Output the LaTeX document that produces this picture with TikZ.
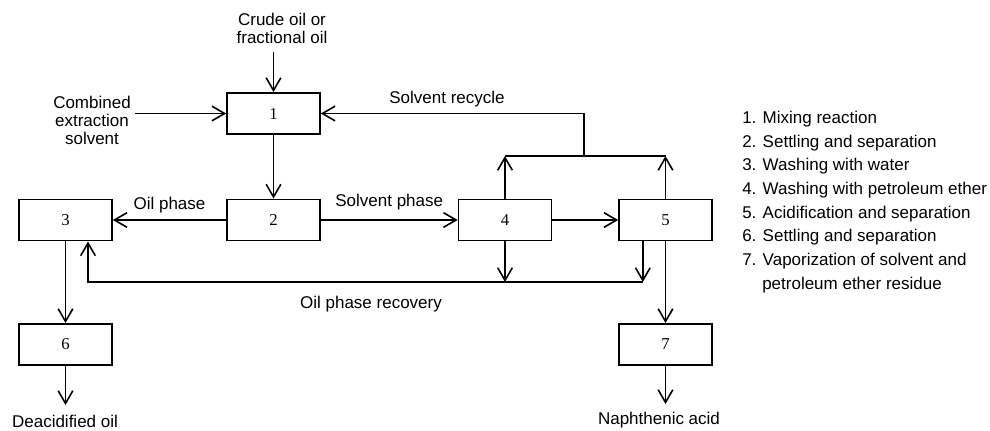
\documentclass[tikz,border=0pt]{standalone}
\usepackage{fontspec}
\setmainfont{Liberation Sans}
\newfontfamily\numfont{Liberation Serif}
\usetikzlibrary{arrows.meta,positioning}

\tikzset{
    box/.style={
        draw,
        line width=1.2pt,
        minimum width=69.75pt,
        minimum height=31pt,
        inner sep=0pt,
        font={\numfont\fontsize{12.5}{14}\selectfont}
    },
    flow/.style={
        -{Straight Barb[length=9.5pt,width=11pt]},
        line width=1.2pt
    },
    pipe/.style={
        line width=1.2pt
    },
    txt/.style={
        align=center,
        inner sep=0pt,
        font=\fontsize{12.75}{13.5}\selectfont
    },
    legend/.style={
        anchor=west,
        inner sep=0pt,
        font=\fontsize{12.75}{13.5}\selectfont
    }
}

\begin{document}
\begin{tikzpicture}[x=0.75pt,y=-0.75pt]
                \useasboundingbox (0,0) rectangle (990,430);

                % process units
                \node[box] (b1) at (273.5,113.5) {1};
                \node[box] (b2) at (273.5,220) {2};
                \node[box] (b3) at (65.5,220) {3};
                \node[box] (b4) at (505,220) {4};
                \node[box] (b5) at (665.5,220) {5};
                \node[box] (b6) at (65.5,344.5) {6};
                \node[box] (b7) at (665.5,344.5) {7};

                % feeds
                \node[txt] (crude) at (282,28) {Crude oil or\\fractional oil};
                \node[txt] (solv) at (92,120) {Combined\\extraction\\solvent};
                \coordinate (crudein) at (273.5,52);
                \coordinate (solvin) at (135,113.5);

                \draw[flow] (crudein) -- (b1.north);
                \draw[flow] (solvin) -- (b1.west);
                \draw[flow] (b1.south) -- (b2.north);

                \draw[flow] (b2.west) -- (b3.east) node[txt, midway, above=5pt] (oil) {Oil phase};
                \draw[flow] (b2.east) -- (b4.west) node[txt, midway, above=7pt] (sph) {Solvent phase};
                \draw[flow] (b4.east) -- (b5.west);

                % solvent recycle
                \coordinate (up) at (584,156);
                \draw[flow] (b4.north) -- (b4.north |- up);
                \draw[flow] (b5.north) -- (b5.north |- up);
                \draw[pipe] (b4.north |- up) -- (b5.north |- up);
                \draw[flow] (up) |- (b1.east);
                \node[txt] (rcy) at (447,99) {Solvent recycle};

                % oil phase recovery
                \coordinate (rec) at (88,282);
                \coordinate (b5out) at ([xshift=-17pt]b5.south);
                \draw[flow] (b4.south) -- (b4.south |- rec);
                \draw[flow] (b5out) -- (b5out |- rec);
                \draw[flow] (b5out |- rec) -- (rec) -- (rec |- b3.south);
                \node[txt] (recl) at (371,304) {Oil phase recovery};

                % products
                \coordinate (oilout) at (65.5,405);
                \coordinate (acidout) at (665.5,404);
                \draw[flow] (b3.south) -- (b6.north);
                \draw[flow] (b6.south) -- (oilout);
                \draw[flow] (b5.south) -- (b7.north);
                \draw[flow] (b7.south) -- (acidout);
                \node[txt] (deoil) at (65,421) {Deacidified oil};
                \node[txt] (nacid) at (659,420) {Naphthenic acid};

                % legend
                \node[legend] (l1) at (742,119) {1. Mixing reaction};
                \node[legend] (l2) at (742,142.7) {2. Settling and separation};
                \node[legend] (l3) at (742,166.4) {3. Washing with water};
                \node[legend] (l4) at (742,190.1) {4. Washing with petroleum ether};
                \node[legend] (l5) at (742,213.8) {5. Acidification and separation};
                \node[legend] (l6) at (742,237.5) {6. Settling and separation};
                \node[legend] (l7) at (742,261.2) {7. Vaporization of solvent and};
                \node[legend] (l8) at (762,284.9) {petroleum ether residue};

            \end{tikzpicture}
\end{document}
